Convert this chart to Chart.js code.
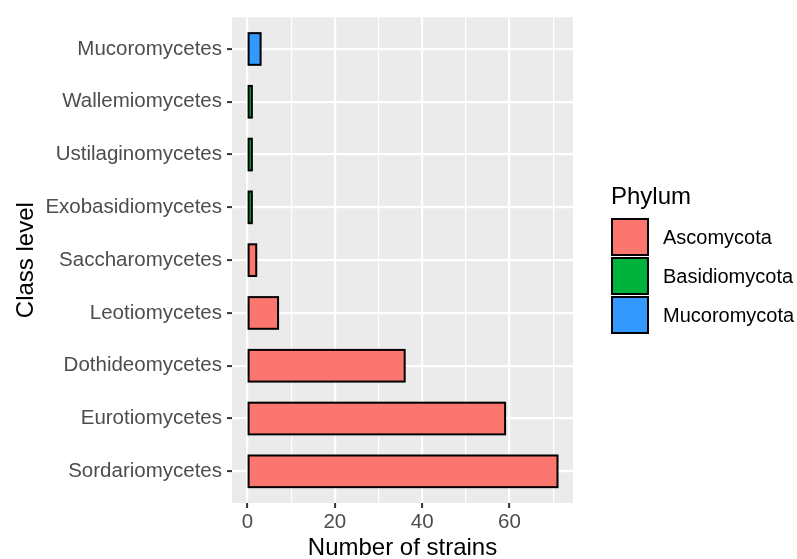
<!DOCTYPE html>
<html>
<head>
<meta charset="utf-8">
<script src="https://cdn.jsdelivr.net/npm/chart.js@4/dist/chart.umd.min.js"></script>
<style>
  html, body { margin: 0; padding: 0; background: #fff; }
  canvas { display: block; }
</style>
</head>
<body>
<canvas id="c" width="797" height="559"></canvas>
<script>
// Categories listed bottom to top
const categories = ["Sordariomycetes", "Eurotiomycetes", "Dothideomycetes", "Leotiomycetes",
  "Saccharomycetes", "Exobasidiomycetes", "Ustilaginomycetes", "Wallemiomycetes", "Mucoromycetes"];
const strainCounts = [71, 59, 36, 7, 2, 1, 1, 1, 3];
const categoryPhylum = ["Ascomycota", "Ascomycota", "Ascomycota", "Ascomycota",
  "Ascomycota", "Basidiomycota", "Basidiomycota", "Basidiomycota", "Mucoromycota"];
const phyla = ["Ascomycota", "Basidiomycota", "Mucoromycota"];
const phylumColors = ["#FA766F", "#00B33C", "#3399FF"];
const xTickValues = [0, 10, 20, 30, 40, 50, 60, 70];

const FONT = "'Liberation Sans', Arial, sans-serif";

const datasets = phyla.map((p, pi) => ({
  label: p,
  data: categories.map((c, i) => ({ x: strainCounts[i], y: i + 1, p: categoryPhylum[i] }))
                  .filter(d => d.p === p),
  backgroundColor: phylumColors[pi],
  borderColor: "#000000",
  borderWidth: 0,
  borderSkipped: false,
  barPercentage: 0.6,
  categoryPercentage: 1.0,
  grouped: false
}));

const panelBg = {
  id: "panelBg",
  beforeDraw(chart) {
    const a = chart.chartArea, ctx = chart.ctx;
    ctx.save();
    ctx.fillStyle = "#EBEBEB";
    ctx.fillRect(a.left, a.top, a.right - a.left, a.bottom - a.top);
    ctx.restore();
  }
};

// ggplot-style outline: stroke centred on the bar edges
const barOutline = {
  id: "barOutline",
  afterDatasetsDraw(chart) {
    const ctx = chart.ctx;
    ctx.save();
    ctx.lineWidth = 2;
    ctx.strokeStyle = "#000";
    chart.data.datasets.forEach((ds, di) => {
      chart.getDatasetMeta(di).data.forEach(el => {
        const p = el.getProps(["x", "y", "base", "height"], true);
        const left = Math.min(p.base, p.x), right = Math.max(p.base, p.x);
        ctx.strokeRect(left, p.y - p.height / 2, right - left, p.height);
      });
    });
    ctx.restore();
  }
};

const sideLegend = {
  id: "sideLegend",
  afterDraw(chart) {
    const ctx = chart.ctx;
    const x0 = 612, top = 219, pitch = 39, box = 36;
    ctx.save();
    ctx.fillStyle = "#000";
    ctx.font = "24px " + FONT;
    ctx.textBaseline = "alphabetic";
    ctx.textAlign = "left";
    ctx.fillText("Phylum", x0 - 1, 204);
    chart.data.datasets.forEach((ds, i) => {
      const y = top + i * pitch;
      ctx.fillStyle = ds.backgroundColor;
      ctx.fillRect(x0, y, box, box);
      ctx.lineWidth = 2;
      ctx.strokeStyle = "#000";
      ctx.strokeRect(x0, y, box, box);
      ctx.fillStyle = "#000";
      ctx.font = "20px " + FONT;
      ctx.textBaseline = "middle";
      ctx.fillText(ds.label, x0 + 51, y + box / 2 + 1);
    });
    ctx.restore();
  }
};

new Chart(document.getElementById("c"), {
  type: "bar",
  data: { datasets },
  plugins: [panelBg, barOutline, sideLegend],
  options: {
    indexAxis: "y",
    responsive: false,
    animation: false,
    devicePixelRatio: 1,
    layout: { padding: { left: 0, top: 15, right: 224, bottom: 0 } },
    plugins: { legend: { display: false }, tooltip: { enabled: false } },
    scales: {
      x: {
        type: "linear",
        min: -3.55,
        max: 74.55,
        afterBuildTicks(scale) { scale.ticks = xTickValues.map(v => ({ value: v })); },
        afterFit(scale) { scale.height = 56; },
        border: { display: false },
        grid: {
          color: "#FFFFFF",
          lineWidth: ctx => (ctx.tick && ctx.tick.value % 20 === 0) ? 2.2 : 1.2,
          tickColor: ctx => (ctx.tick && ctx.tick.value % 20 === 0) ? "#333333" : "rgba(0,0,0,0)",
          tickLength: 5,
          tickWidth: 2
        },
        ticks: {
          color: "#4D4D4D",
          font: { family: FONT, size: 20.5 },
          padding: 2,
          maxRotation: 0,
          callback: v => (v % 20 === 0 ? String(v) : "")
        },
        title: {
          display: true,
          text: "Number of strains",
          color: "#000",
          font: { family: FONT, size: 24, lineHeight: 0.9 },
          padding: 0
        }
      },
      y: {
        type: "linear",
        offset: false,
        min: 0.4,
        max: 9.6,
        afterBuildTicks(scale) { scale.ticks = categories.map((c, i) => ({ value: i + 1 })); },
        afterFit(scale) { scale.width = 232; },
        border: { display: false },
        grid: {
          offset: false,
          color: "#FFFFFF",
          lineWidth: 2.2,
          tickColor: "#333333",
          tickLength: 5,
          tickWidth: 2
        },
        ticks: {
          color: "#4D4D4D",
          font: { family: FONT, size: 20.5 },
          padding: 5,
          callback: v => categories[Math.round(v) - 1] || ""
        },
        title: {
          display: true,
          text: "Class level",
          color: "#000",
          font: { family: FONT, size: 24, lineHeight: 2.2 },
          padding: 0
        }
      }
    }
  }
});
</script>
</body>
</html>
